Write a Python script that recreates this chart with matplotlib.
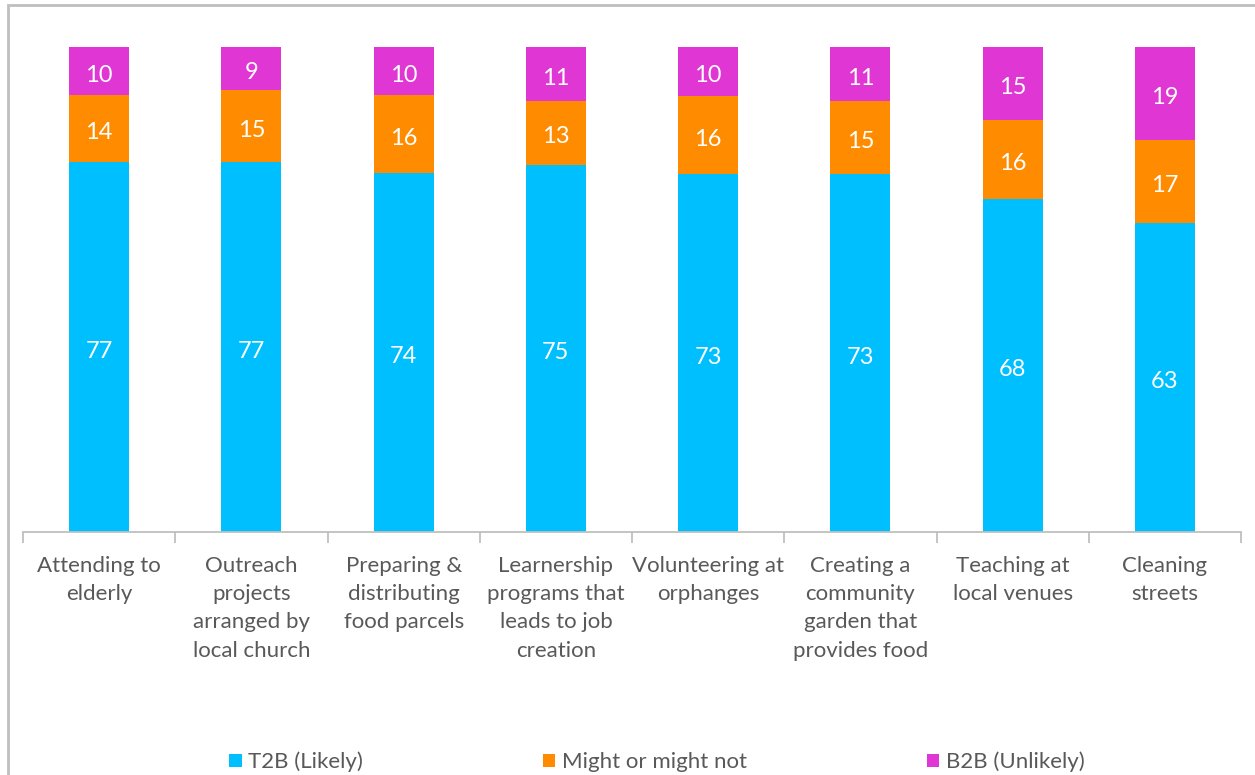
import matplotlib

matplotlib.use("Agg")

import matplotlib.pyplot as plt  # noqa: E402
import numpy as np  # noqa: E402
from matplotlib.patches import Rectangle  # noqa: E402

plt.rcParams["font.family"] = ["Lato", "DejaVu Sans"]

categories = [
    "Attending to\nelderly",
    "Outreach\nprojects\narranged by\nlocal church",
    "Preparing &\ndistributing\nfood parcels",
    "Learnership\nprograms that\nleads to job\ncreation",
    "Volunteering at\norphanges",
    "Creating a\ncommunity\ngarden that\nprovides food",
    "Teaching at\nlocal venues",
    "Cleaning\nstreets",
]
t2b = [77, 77, 74, 75, 73, 73, 68, 63]
might = [14, 15, 16, 13, 16, 15, 16, 17]
b2b = [10, 9, 10, 11, 10, 11, 15, 19]

series_names = ["T2B (Likely)", "Might or might not", "B2B (Unlikely)"]
colors = ["#00BFFF", "#FF8C00", "#E036D4"]
text_gray = "#595959"

fig = plt.figure(figsize=(12.55, 7.75), dpi=100)
ax = fig.add_axes([23 / 1255, 1 - 532 / 775, (1241 - 23) / 1255, (532 - 47) / 775])

# 100% stacked: shares of each row total
data = np.array([t2b, might, b2b], dtype=float)
totals = data.sum(axis=0)
shares = data / totals * 100
x = np.arange(len(categories))

bottom = np.zeros(len(categories))
handles = []
for i, name in enumerate(series_names):
    bars = ax.bar(x, shares[i], 0.395, bottom=bottom, color=colors[i], label=name)
    handles.append(bars)
    for xi, b, h, v in zip(x, bottom, shares[i], data[i]):
        ax.annotate(str(int(v)), (xi, b + h / 2), xytext=(0, -3),
                    textcoords="offset points", ha="center", va="center",
                    color="white", fontsize=17)
    bottom += shares[i]

ax.set_xlim(-0.5, len(categories) - 0.5)
ax.set_ylim(0, 100)
ax.set_yticks([])
for side in ["top", "right", "left"]:
    ax.spines[side].set_visible(False)
ax.spines["bottom"].set_color("#BFBFBF")
ax.spines["bottom"].set_linewidth(1.3)

ax.set_xticks(x)
ax.set_xticklabels(categories, fontsize=16, color=text_gray, linespacing=1.52)
ax.tick_params(axis="x", length=0, pad=17)
# tick marks between categories
ax.set_xticks(np.arange(-0.5, len(categories)), minor=True)
ax.tick_params(axis="x", which="minor", length=8, color="#BFBFBF", width=1.3)

fig.legend(
    handles=handles,
    labels=series_names,
    loc="center",
    bbox_to_anchor=(657 / 1255, 1 - 762 / 775),
    ncol=3,
    frameon=False,
    fontsize=16,
    labelcolor=text_gray,
    handlelength=0.55,
    handleheight=0.55,
    handletextpad=0.3,
    columnspacing=8.1,
)

# outer chart border (cropped on right and bottom)
fig.patches.append(
    Rectangle((8 / 1255, -0.05), 1.1, 1 - 5 / 775 + 0.05, transform=fig.transFigure,
              fill=False, edgecolor="#BFBFBF", linewidth=2)
)

fig.savefig("out.png", dpi=100)
